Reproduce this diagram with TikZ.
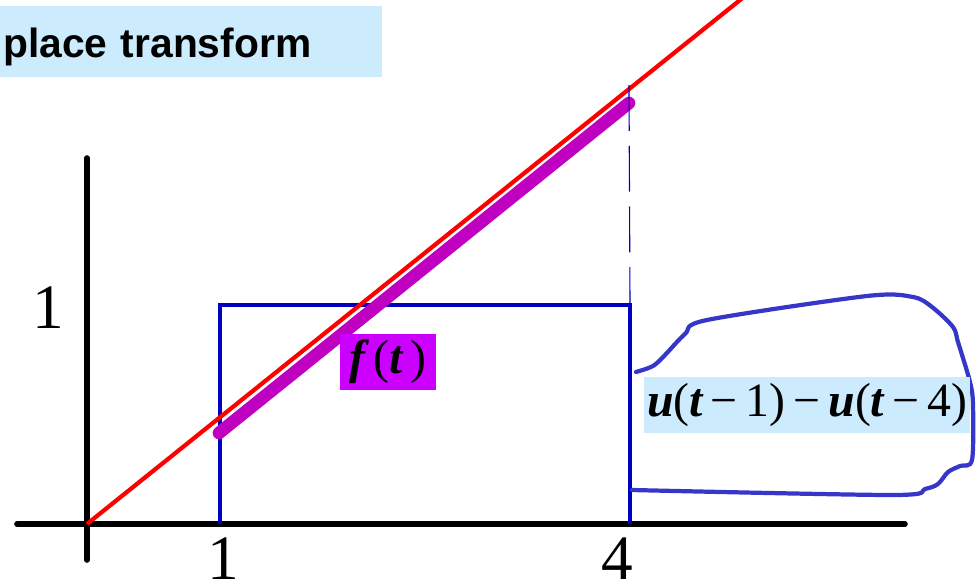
\documentclass[tikz,border=0pt]{standalone}
\usepackage{fontspec}
\setmainfont{Liberation Serif}
\setsansfont{Liberation Sans}
\usetikzlibrary{positioning}
\definecolor{titlebg}{HTML}{CCEBFC}
\definecolor{rectblue}{HTML}{0000C0}
\definecolor{handblue}{HTML}{3636C8}
\definecolor{rampred}{HTML}{FF0000}
\definecolor{segmagenta}{HTML}{C000C0}
\definecolor{labelmagenta}{HTML}{CC00FF}
\newcommand{\bi}[1]{{\bfseries\itshape #1}}

\begin{document}
\begin{tikzpicture}[
  x=0.025cm, y=-0.025cm,
  titlebox/.style={fill=titlebg, inner ysep=0pt, text height=1.275cm, text depth=0.5cm, text width=9.4cm, inner xsep=2pt, align=left, font=\fontsize{29}{29}\selectfont\sffamily\bfseries},
  axis/.style={line width=4pt, line cap=round, black},
  ramp/.style={line width=3pt, rampred},
  segment/.style={line width=9pt, line cap=round, segmagenta},
  window/.style={line width=3.3pt, rectblue},
  guide/.style={line width=0.8pt, rectblue, dash pattern=on 32.6pt off 10.6pt},
  handline/.style={line width=3pt, handblue, line cap=round, line join=round},
  tick/.style={font=\fontsize{45}{45}\selectfont, inner sep=0pt},
  mathbox/.style={inner sep=0pt, minimum height=1.4cm, font=\fontsize{34}{34}\selectfont}
]
\useasboundingbox (0,0) rectangle (976,587);

% title
\node[titlebox, anchor=base west] (title) at (0,57) {place transform};

% axes
\coordinate (O) at (87,524);
\coordinate (xstart) at (17,524);
\coordinate (xend) at (905,524);
\coordinate (ybot) at (87,560);
\coordinate (ytop) at (87,158);
\draw[axis] (xstart) -- (xend);
\draw[axis] (ybot) -- (ytop);

% window u(t-1)-u(t-4)
\coordinate (t1) at (220,524);
\coordinate (t1top) at (220,305);
\coordinate (t4top) at (630,305);
\coordinate (t4) at (630,524);
\draw[window] (t1) -- (t1top) -- (t4top) -- (t4);

% ramp t and the piece f(t)
\coordinate (rampend) at (760,-16);
\draw[ramp] (O) -- (rampend);
\coordinate (segstart) at (219,433);
\coordinate (segend) at (629,103);
\draw[segment] (segstart) -- (segend);
\coordinate (guidetop) at (629,85);
\draw[guide] (guidetop) -- (t4top);

% hand drawn loop
\draw[handline] plot[smooth, tension=0.5] coordinates {(636,372) (653,366) (665,355) (685,334) (707,320) (867,296) (913,297) (932,307) (953,327) (958,342) (970,382) (973,405) (972,460) (960,466) (948,472) (938,484) (925,489) (893,495) (632,490)};

% labels
\node[mathbox, fill=labelmagenta, minimum width=2.4cm] (ft) at (388,362) {\bi{f}\,(\bi{t}\,)};
\node[mathbox, fill=titlebg, minimum width=8.15cm] (window label) at (807,405) {\bi{u}(\bi{t}\,−\,1)\,−\,\bi{u}(\bi{t}\,−\,4)};
\node[tick, anchor=base] (one y) at (48,328) {1};
\node[tick, anchor=base] (one x) at (223,579) {1};
\node[tick, anchor=base] (four x) at (617,579) {4};
\end{tikzpicture}
\end{document}
